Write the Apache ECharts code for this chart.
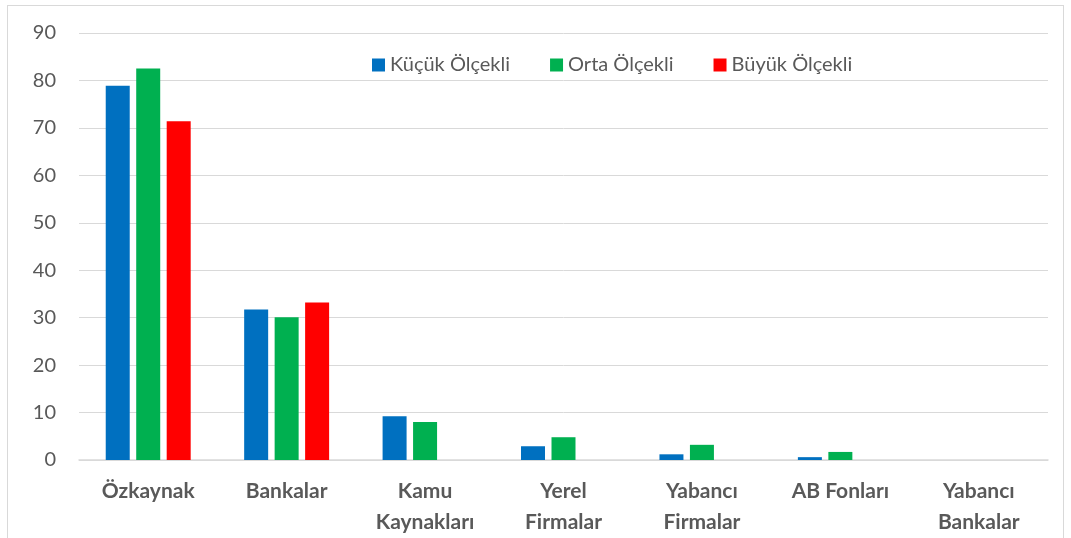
<!DOCTYPE html>
<html lang="tr">
<head>
    <meta charset="UTF-8">
    <script src="https://cdn.jsdelivr.net/npm/echarts@6/dist/echarts.min.js"></script>
    <title>Finansman Kaynakları</title>
    <style>
        html, body { margin: 0; padding: 0; background: #fff; overflow: hidden; }
        #frame { position: absolute; left: 7px; top: 5px; width: 1055px; height: 540px; border: 1px solid #d9d9d9; }
        #main { position: absolute; left: 0; top: 0; width: 1071px; height: 538px; }
    </style>
</head>
<body>
<div id="frame"></div>
<div id="main"></div>
<script type="text/javascript">
    // kategoriler ve seriler
    var categories = ['Özkaynak', 'Bankalar', 'Kamu\nKaynakları', 'Yerel\nFirmalar', 'Yabancı\nFirmalar', 'AB Fonları', 'Yabancı\nBankalar'];
    var kucuk = [78.9, 31.7, 9.2, 2.9, 1.2, 0.6, 0];
    var orta = [82.5, 30.1, 8.0, 4.8, 3.2, 1.7, 0];
    var buyuk = [71.4, 33.2, 0, 0, 0, 0, 0];
    var yTicks = [0, 10, 20, 30, 40, 50, 60, 70, 80, 90];

    var font = 'Lato, "Open Sans", sans-serif';
    var myChart = echarts.init(document.getElementById('main'));

    var option = {
        backgroundColor: 'transparent',
        animation: false,
        textStyle: { fontFamily: font },
        legend: {
            left: 367,
            top: 50,
            itemWidth: 13,
            itemHeight: 13,
            itemGap: 40,
            icon: 'rect',
            textStyle: { fontSize: 20, color: '#595959', fontFamily: font },
            data: ['Küçük Ölçekli', 'Orta Ölçekli', 'Büyük Ölçekli']
        },
        grid: { left: 79, right: 23, top: 33, bottom: 71 },
        xAxis: {
            type: 'category',
            data: categories,
            axisLine: { lineStyle: { color: '#d9d9d9', width: 1.5 } },
            axisTick: { show: false },
            axisLabel: {
                interval: 0,
                margin: 16,
                fontSize: 21,
                fontWeight: 'bold',
                color: '#595959',
                lineHeight: 31,
                fontFamily: font
            }
        },
        yAxis: {
            type: 'value',
            min: yTicks[0],
            max: yTicks[yTicks.length - 1],
            interval: 10,
            axisLine: { show: false },
            axisTick: { show: false },
            axisLabel: { fontSize: 20, color: '#595959', margin: 23, fontFamily: font },
            splitLine: { lineStyle: { color: '#d9d9d9', width: 1 } }
        },
        series: [
            {
                name: 'Küçük Ölçekli', type: 'bar', data: kucuk,
                barWidth: 24, barGap: '27%',
                itemStyle: { color: '#0070c0' }
            },
            {
                name: 'Orta Ölçekli', type: 'bar', data: orta,
                barWidth: 24, barGap: '27%',
                itemStyle: { color: '#00b050' }
            },
            {
                name: 'Büyük Ölçekli', type: 'bar', data: buyuk,
                barWidth: 24, barGap: '27%',
                itemStyle: { color: '#ff0000' }
            }
        ]
    };
    myChart.setOption(option);
</script>
</body>
</html>
